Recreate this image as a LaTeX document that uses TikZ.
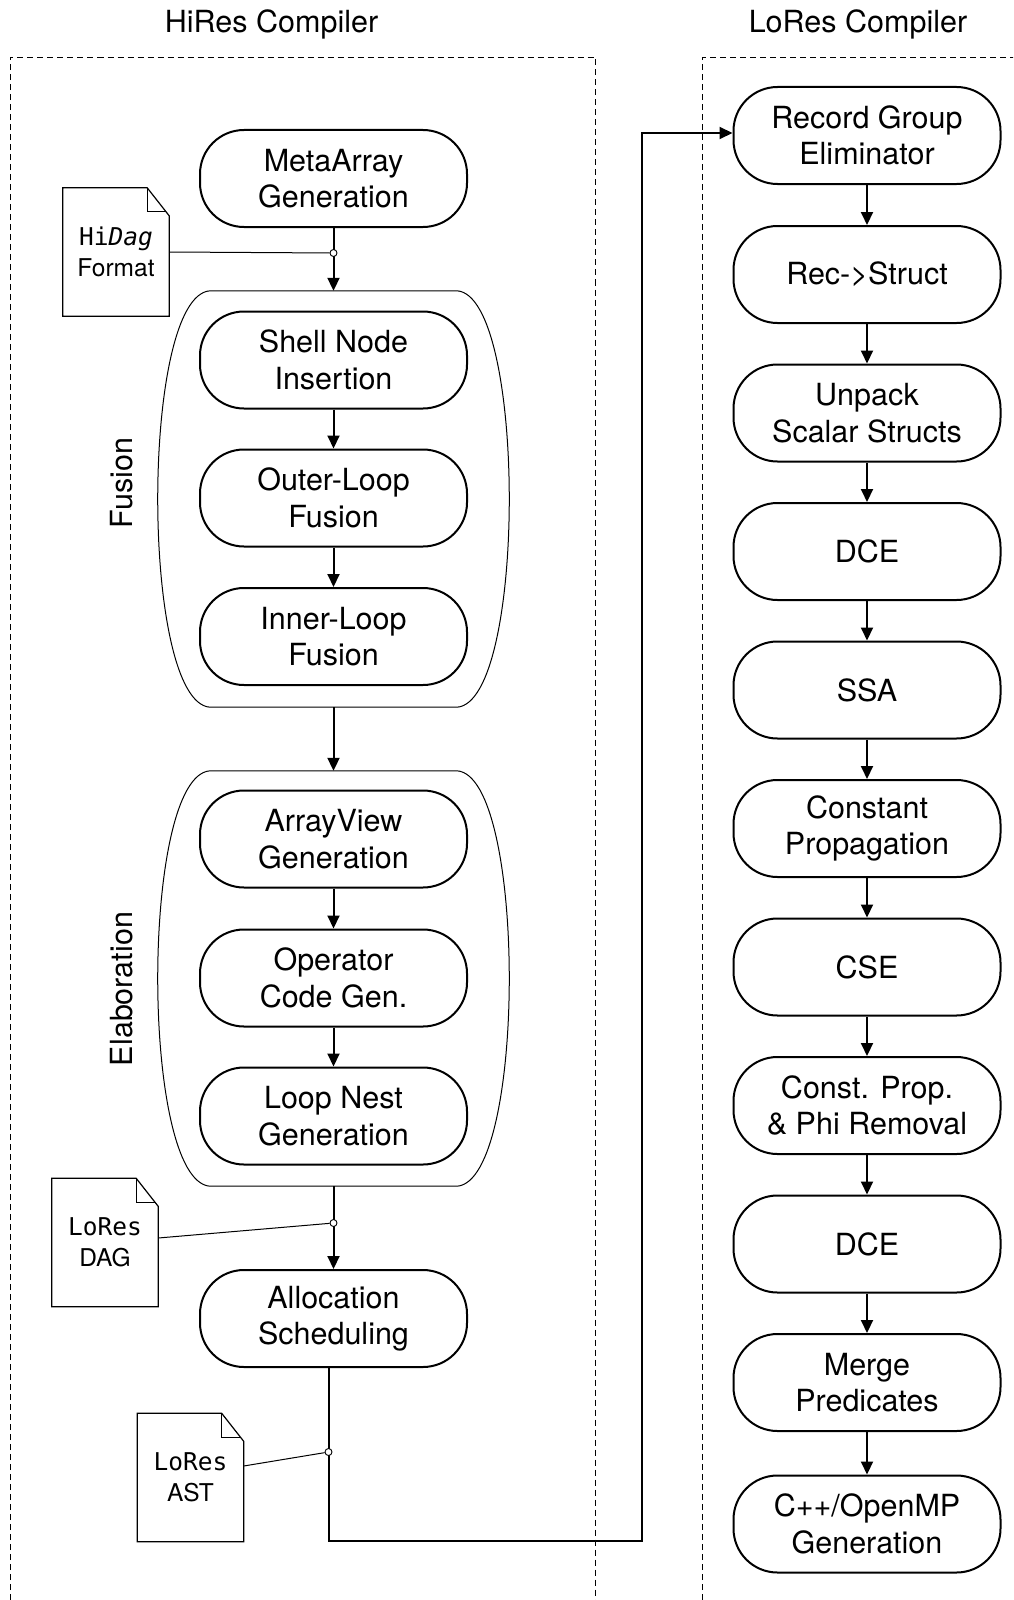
\documentclass[tikz,border=0pt]{standalone}
\usepackage{fontspec}
\setmainfont{TeX Gyre Heros}
\setmonofont{DejaVu Sans Mono}[ItalicFont={DejaVu Sans Mono Oblique}]
\usetikzlibrary{arrows.meta,calc}

\tikzset{
  pass/.style={draw, line width=2pt, rounded corners=44pt, minimum width=267pt,
    minimum height=97pt, align=center, inner sep=0pt,
    font=\fontsize{30.5}{36.5}\selectfont},
  flow/.style={line width=2pt, -{Triangle[length=13pt,width=12pt]}},
  grp/.style={minimum width=352pt, inner sep=0pt},
  grpline/.style={line width=1pt},
  doc/.style={minimum width=106pt, minimum height=128pt, inner sep=0pt,
    align=center, font=\fontsize{24.5}{30.5}\selectfont},
  docline/.style={line width=1.2pt},
  tap/.style={circle, draw, line width=0.9pt, fill=white, minimum size=7pt, inner sep=0pt},
  thinlink/.style={line width=1pt},
  boundary/.style={dash pattern=on 6pt off 4pt, line width=1pt},
  title/.style={font=\fontsize{30.5}{36.5}\selectfont, anchor=base},
  grplabel/.style={font=\fontsize{30.5}{36.5}\selectfont, rotate=90}
}

\begin{document}
\begin{tikzpicture}[x=1pt,y=-1pt]
\useasboundingbox (0,0) rectangle (1013,1600);

% compiler boundaries
\begin{scope}
  \clip (0,0) rectangle (1013,1600);
  \draw[boundary] (10,1620) -- (10,57.5) -- (595.5,57.5) -- (595.5,1620);
  \draw[boundary] (702.5,1620) -- (702.5,57.5) -- (1040,57.5);
\end{scope}

\node[title] (hireslbl) at (271.5,33) {HiRes Compiler};
\node[title] (loreslbl) at (858,33) {LoRes Compiler};

% HiRes passes
\node[pass] (meta) at (333.5,178.5) {MetaArray\\Generation};
\node[grp, minimum height=416pt] (fusion) at (333.5,499) {};
\node[pass] (shell) at (333.5,360) {Shell Node\\Insertion};
\node[pass] (outer) at (333.5,498) {Outer-Loop\\Fusion};
\node[pass] (inner) at (333.5,636.5) {Inner-Loop\\Fusion};
\node[grp, minimum height=415pt] (elab) at (333.5,978.5) {};
\node[pass] (aview) at (333.5,839) {ArrayView\\Generation};
\node[pass] (opgen) at (333.5,978) {Operator\\Code Gen.};
\node[pass] (lnest) at (333.5,1116) {Loop Nest\\Generation};
\node[pass] (alloc) at (333.5,1318.5) {Allocation\\Scheduling};

\node[grplabel] (fusionlbl) at (122,483) {Fusion};
\node[grplabel] (elablbl) at (122,989) {Elaboration};

% pass groups
\foreach \g in {fusion,elab}{
  \draw[grpline] ($(\g.north)+(-123.5,0)$) -- ($(\g.north)+(123.5,0)$)
    .. controls ($(\g.north east)+(17,5)$) and ($(\g.south east)+(17,-5)$) .. ($(\g.south)+(123.5,0)$)
    -- ($(\g.south)+(-123.5,0)$)
    .. controls ($(\g.south west)+(-17,-5)$) and ($(\g.north west)+(-17,5)$) .. cycle;
}

% LoRes passes
\node[pass] (rge) at (867,135.5) {Record Group\\Eliminator};
\node[pass] (r2s) at (867,274.5) {Rec->Struct};
\node[pass] (unpack) at (867,413) {Unpack\\Scalar Structs};
\node[pass] (dcea) at (867,551.5) {DCE};
\node[pass] (ssa) at (867,690) {SSA};
\node[pass] (cprop) at (867,828.5) {Constant\\Propagation};
\node[pass] (cse) at (867,967) {CSE};
\node[pass] (phi) at (867,1105.5) {Const. Prop.\\\& Phi Removal};
\node[pass] (dceb) at (867,1244) {DCE};
\node[pass] (merge) at (867,1382.5) {Merge\\Predicates};
\node[pass] (cgen) at (867,1524) {C++/OpenMP\\Generation};

% intermediate formats
\node[doc] (hidag) at (116,252) {\texttt{Hi\textit{Dag}}\\Format};
\node[doc] (dag) at (105,1242.5) {\texttt{LoRes}\\DAG};
\node[doc] (ast) at (190.5,1477.5) {\texttt{LoRes}\\AST};
\foreach \d in {hidag,dag,ast}{
  \draw[docline] (\d.north west) -- ([xshift=-22pt]\d.north east)
    -- ([yshift=-28pt]\d.north east) -- (\d.south east) -- (\d.south west) -- cycle;
  \draw[docline] ([xshift=-22pt]\d.north east) -- ([xshift=-22pt,yshift=-24pt]\d.north east)
    -- ([xshift=-3pt,yshift=-24pt]\d.north east);
}

% HiRes flow
\draw[flow] (meta.south) -- (fusion.north);
\draw[flow] (shell) -- (outer);
\draw[flow] (outer) -- (inner);
\draw[flow] (fusion.south) -- (elab.north);
\draw[flow] (aview) -- (opgen);
\draw[flow] (opgen) -- (lnest);
\draw[flow] (elab.south) -- (alloc.north);

% hand-over to the LoRes compiler
\coordinate (turn) at (642,1541);
\draw[flow] ([xshift=-5pt]alloc.south) |- (turn) |- ([yshift=2.5pt]rge.west);

% LoRes flow
\draw[flow] (rge) -- (r2s);
\draw[flow] (r2s) -- (unpack);
\draw[flow] (unpack) -- (dcea);
\draw[flow] (dcea) -- (ssa);
\draw[flow] (ssa) -- (cprop);
\draw[flow] (cprop) -- (cse);
\draw[flow] (cse) -- (phi);
\draw[flow] (phi) -- (dceb);
\draw[flow] (dceb) -- (merge);
\draw[flow] (merge) -- (cgen);

% format taps
\node[tap] (j1) at (333.5,253) {};
\node[tap] (j2) at (333.5,1223) {};
\node[tap] (j3) at (328.5,1452) {};
\draw[thinlink] (hidag.east) -- (j1);
\draw[thinlink] ([yshift=4.5pt]dag.east) -- (j2);
\draw[thinlink] ([yshift=11.5pt]ast.east) -- (j3);
\end{tikzpicture}
\end{document}
